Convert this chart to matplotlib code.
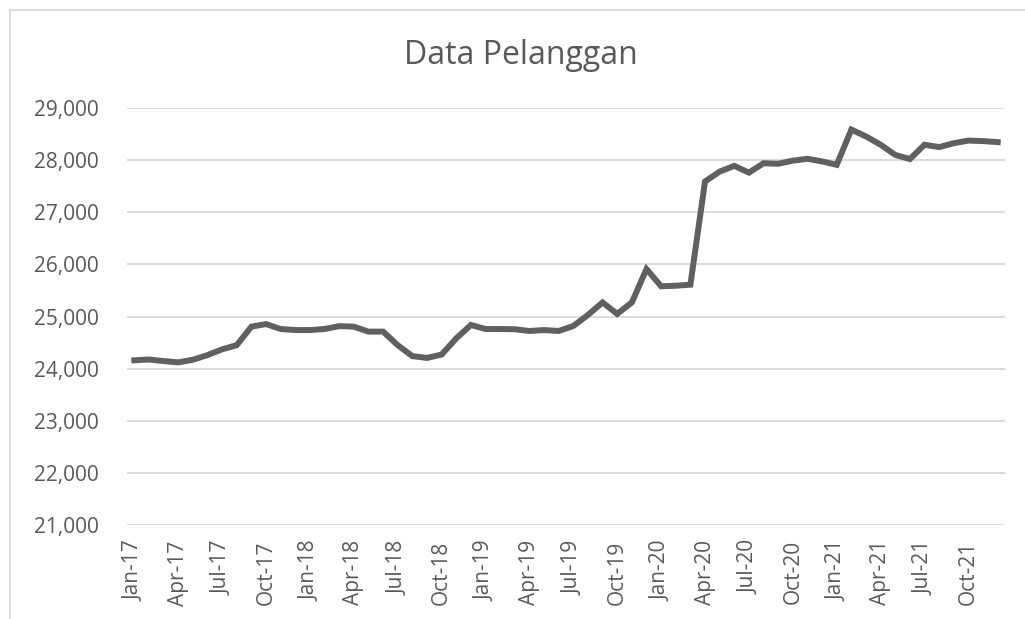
import matplotlib.pyplot as plt
from matplotlib.lines import Line2D
import numpy as np

# monthly customer count, Jan-17 .. Dec-21
months = ['Jan', 'Feb', 'Mar', 'Apr', 'May', 'Jun',
          'Jul', 'Aug', 'Sep', 'Oct', 'Nov', 'Dec']
years = ['17', '18', '19', '20', '21']
labels = [m + '-' + y for y in years for m in months]

pelanggan_2017 = [24160, 24175, 24145, 24120, 24170, 24260,
                  24370, 24450, 24805, 24855, 24760, 24740]
pelanggan_2018 = [24740, 24760, 24815, 24805, 24710, 24710,
                  24450, 24240, 24205, 24270, 24580, 24838]
pelanggan_2019 = [24760, 24760, 24755, 24722, 24740, 24722,
                  24818, 25030, 25270, 25050, 25270, 25910]
pelanggan_2020 = [25580, 25590, 25610, 27590, 27780, 27890,
                  27760, 27940, 27930, 27990, 28025, 27975]
pelanggan_2021 = [27910, 28585, 28455, 28295, 28100, 28020,
                  28295, 28250, 28325, 28375, 28365, 28345]

values = pelanggan_2017 + pelanggan_2018 + pelanggan_2019 + pelanggan_2020 + pelanggan_2021
x = np.arange(len(values))

plt.rcParams['font.family'] = ['Open Sans', 'DejaVu Sans']
txt = '#595959'

fig = plt.figure(figsize=(10.25, 6.19), dpi=100)
ax = fig.add_axes([127 / 1025, 1 - 525 / 619, (1005 - 127) / 1025, (525 - 108) / 619])

ax.plot(x, values, color='#606060', lw=4.3, solid_joinstyle='miter', zorder=3)

ax.set_xlim(-0.5, len(values) - 0.5)
ax.set_ylim(21000, 29000)
ax.set_yticks(np.arange(21000, 29001, 1000))
ax.set_yticklabels([f'{v:,}' for v in range(21000, 29001, 1000)])
ax.set_xticks(x[::3])
ax.set_xticklabels(labels[::3], rotation=90)
ax.grid(axis='y', color='#D9D9D9', lw=1.3)
ax.set_axisbelow(True)
for s in ax.spines.values():
    s.set_visible(False)
ax.tick_params(axis='both', length=0, colors=txt, labelsize=15)
ax.tick_params(axis='y', pad=20)
ax.tick_params(axis='x', pad=11)

fig.text(521 / 1025, 1 - 55 / 619, 'Data Pelanggan', ha='center', va='center',
         fontsize=23, color=txt)

# chart area border (left and top only visible)
fig.add_artist(Line2D([10 / 1025, 10 / 1025], [0, 1 - 10 / 619], color='#D9D9D9', lw=1.2,
                      transform=fig.transFigure))
fig.add_artist(Line2D([10 / 1025, 1], [1 - 10 / 619, 1 - 10 / 619], color='#D9D9D9', lw=1.2,
                      transform=fig.transFigure))

fig.savefig('out.png', dpi=100)
